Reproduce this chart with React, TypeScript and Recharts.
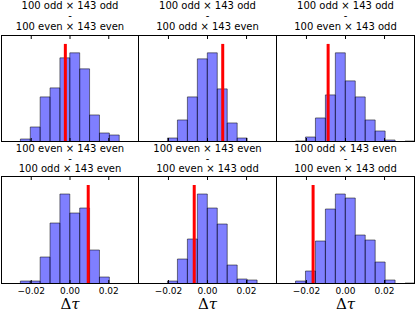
import React from "react"
import { ComposedChart, XAxis, YAxis, Line, ReferenceArea } from "recharts"

// shared histogram bin edges (Δτ)
const binEdges = [
  -0.0256, -0.0205, -0.0154, -0.0103, -0.0052, -0.0001, 0.005, 0.0101, 0.0152, 0.0203, 0.0254, 0.0305, 0.0356,
]
const xTicks = [-0.02, 0, 0.02]
const xDomain: [number, number] = [-0.0356, 0.0356]

// counts per bin, one array per panel (row by row)
const countsOOvsEE = [3, 15, 45, 54, 84, 89, 73, 27, 9, 7, 0, 0]
const countsOOvsOE = [0, 4, 22, 45, 83, 89, 53, 19, 4, 0, 0, 0]
const countsOOvsEO = [1, 5, 24, 47, 89, 61, 45, 22, 11, 2, 0, 1]
const countsEEvsOE = [3, 3, 27, 61, 90, 71, 76, 34, 7, 0, 0, 0]
const countsEEvsEO = [0, 3, 25, 45, 90, 76, 60, 19, 5, 4, 0, 0]
const countsOEvsEO = [3, 13, 43, 75, 90, 86, 49, 44, 22, 4, 0, 1]

// observed Δτ (red line)
const observed = [-0.0024, 0.0078, -0.0089, 0.0094, -0.0068, -0.0166]

const titleFirst = [
  "100 odd × 143 odd",
  "100 odd × 143 odd",
  "100 odd × 143 odd",
  "100 even × 143 even",
  "100 even × 143 even",
  "100 odd × 143 even",
]
const titleSecond = [
  "100 even × 143 even",
  "100 odd × 143 even",
  "100 even × 143 odd",
  "100 odd × 143 even",
  "100 even × 143 odd",
  "100 even × 143 odd",
]

const panelCounts = [countsOOvsEE, countsOOvsOE, countsOOvsEO, countsEEvsOE, countsEEvsEO, countsOEvsEO]

const colLeft = [1, 138, 276]
const colWidth = [138, 139, 139]
const rowTop = [35, 176]
const rowHeight = [107, 108]
const titleTop = [0.75, 144]
const titleLine = [10.5, 10]
const AXIS_H = 30

const fmt = (v: number) => (v === 0 ? "0.00" : (v < 0 ? "\u22120" : "0") + Math.abs(v).toFixed(2).slice(1))

const makeTick = (plotH: number, labels: boolean) => (props: any) => {
  const { x, y, payload } = props
  return (
    <g>
      <line x1={x} x2={x} y1={y} y2={y - 4} stroke="#000" strokeWidth={1} />
      <line x1={x} x2={x} y1={y - plotH} y2={y - plotH + 4} stroke="#000" strokeWidth={1} />
      {labels && (
        <text x={x} y={y + 9.5} textAnchor="middle" fontSize={9} fontFamily="DejaVu Sans" fill="#000">
          {fmt(payload.value)}
        </text>
      )}
    </g>
  )
}

function Panel({ idx }: { idx: number }) {
  const row = Math.floor(idx / 3)
  const col = idx % 3
  const counts = panelCounts[idx]
  const maxCount = Math.max(...counts)
  const yTop = maxCount * 1.2
  const w = colWidth[col]
  const h = rowHeight[row]
  const redLine = [
    { x: observed[idx], y: 0 },
    { x: observed[idx], y: maxCount * 1.1 },
  ]

  return (
    <div style={{ position: "absolute", left: colLeft[col], top: rowTop[row] }}>
      <ComposedChart width={w} height={h + AXIS_H} margin={{ top: 0, right: 0, bottom: 0, left: 0 }}>
        <XAxis
          type="number"
          dataKey="x"
          domain={xDomain}
          ticks={xTicks}
          allowDataOverflow
          height={AXIS_H}
          axisLine={false}
          tickLine={false}
          tickSize={0}
          tickMargin={0}
          tick={makeTick(h, row === 1)}
          interval={0}
        />
        <YAxis hide type="number" domain={[0, yTop]} allowDataOverflow />
        {counts.map((c, i) =>
          c > 0 ? (
            <ReferenceArea
              key={i}
              x1={binEdges[i]}
              x2={binEdges[i + 1]}
              y1={0}
              y2={c}
              ifOverflow="hidden"
              fill="#0000ff"
              fillOpacity={0.5}
              stroke="#000"
              strokeOpacity={0.5}
              strokeWidth={1}
            />
          ) : null
        )}
        <Line
          data={redLine}
          dataKey="y"
          stroke="#ff0000"
          strokeWidth={3}
          dot={false}
          activeDot={false}
          isAnimationActive={false}
        />
      </ComposedChart>
      <div
        style={{
          position: "absolute",
          left: 0,
          top: 0,
          width: w,
          height: h,
          border: "1px solid #000",
          boxSizing: "border-box",
          pointerEvents: "none",
        }}
      />
    </div>
  )
}

export default function App() {
  const panels = [0, 1, 2, 3, 4, 5]
  return (
    <div
      style={{
        position: "absolute",
        left: 0,
        top: 0,
        width: 415,
        height: 312,
        background: "#fff",
        overflow: "hidden",
        fontFamily: "DejaVu Sans",
      }}
    >
      {panels.map((i) => (
        <Panel key={i} idx={i} />
      ))}
      {panels.map((i) => {
        const row = Math.floor(i / 3)
        const col = i % 3
        return (
          <div
            key={"t" + i}
            style={{
              position: "absolute",
              left: colLeft[col],
              width: colWidth[col],
              top: titleTop[row],
              textAlign: "center",
              fontSize: 10,
              lineHeight: titleLine[row] + "px",
              color: "#000",
              whiteSpace: "nowrap",
            }}
          >
            <div>{titleFirst[i]}</div>
            <div>-</div>
            <div>{titleSecond[i]}</div>
          </div>
        )
      })}
      {[0, 1, 2].map((col) => (
        <div
          key={"xl" + col}
          style={{
            position: "absolute",
            left: colLeft[col],
            width: colWidth[col],
            top: 297,
            textAlign: "center",
            fontSize: 15,
            lineHeight: "14px",
            fontFamily: "DejaVu Serif",
            color: "#000",
          }}
        >
          Δ<i>τ</i>
        </div>
      ))}
    </div>
  )
}
